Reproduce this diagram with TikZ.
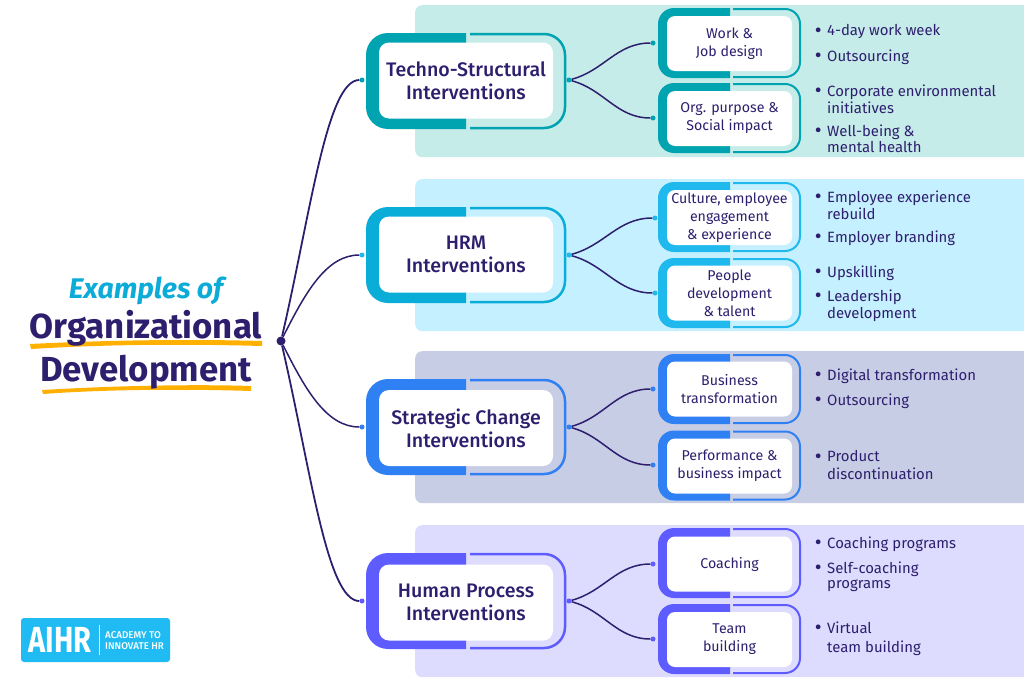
\documentclass[tikz,border=0pt]{standalone}
\usepackage{fontspec}
\setmainfont{Fira Sans}
\newfontfamily\medfam{Fira Sans Medium}
\usetikzlibrary{positioning}
\definecolor{navy}{HTML}{2E1F6E}
\definecolor{skyb}{HTML}{0CABD8}
\definecolor{orng}{HTML}{FFB000}
\definecolor{logob}{HTML}{1FBBF2}
\definecolor{teal1}{HTML}{00A3B0}
\definecolor{teal2}{HTML}{C5ECE9}
\definecolor{cyan1}{HTML}{1FB9EE}
\definecolor{cyan2}{HTML}{C5F0FF}
\definecolor{cyan3}{HTML}{0AACD8}
\definecolor{blue1}{HTML}{2F80F2}
\definecolor{blue2}{HTML}{C8CDE6}
\definecolor{viol1}{HTML}{5F5CFF}
\definecolor{viol2}{HTML}{DDDCFF}
\tikzstyle{bigbox} = [rectangle, fill=white, rounded corners=10, inner sep=0, minimum width=174, minimum height=76, align=center, text=navy, font=\fontsize{19.6}{23}\selectfont\medfam]
\tikzstyle{subbox} = [rectangle, fill=white, rounded corners=8, inner sep=0, minimum width=125, minimum height=55, align=center, text=navy, font=\fontsize{14.2}{18}\selectfont]
\tikzstyle{item} = [anchor=north west, inner sep=0, align=left, text=navy, font=\fontsize{14.9}{15}\selectfont]
\tikzstyle{band} = [rectangle, rounded corners=7, anchor=north west, inner sep=0, minimum width=620, minimum height=152]
\tikzstyle{dotn} = [circle, inner sep=0, minimum size=5]
\tikzstyle{line} = [draw=navy, line width=1.5]
\tikzstyle{mainline} = [draw=navy, line width=1.8]
\newcommand{\bul}{\strut\llap{\raisebox{-1.6pt}{\fontsize{21}{21}\selectfont\textbullet}\hspace{5.5pt}}}
\newcommand{\bigframe}[3]{
	\begin{scope}[shift={(466,#3)}]
		\fill [#1] (0,-48) [rounded corners=22] -- (-100,-48) -- (-100,48) [sharp corners] -- (0,48) -- cycle;
		\filldraw [draw=#1, fill=#2, line width=2.5] (4,-47) [rounded corners=21] -- (99,-47) -- (99,47) [sharp corners] -- (4,47);
	\end{scope}}
\newcommand{\subframe}[3]{
	\begin{scope}[shift={(730,#3)}]
		\fill [#1] (0,-35) [rounded corners=16] -- (-72,-35) -- (-72,35) [sharp corners] -- (0,35) -- cycle;
		\filldraw [draw=#1, fill=#2, line width=2] (3,-34) [rounded corners=15] -- (70,-34) -- (70,34) [sharp corners] -- (3,34);
	\end{scope}}
\begin{document}
\begin{tikzpicture}[x=1pt, y=-1pt]
	\useasboundingbox (0,0) rectangle (1024,680);
	\begin{scope}
		\clip (0,0) rectangle (1024,680);
		\node [band, fill=teal2] (bandA) at (415,5) {};
		\node [band, fill=cyan2] (bandB) at (415,179) {};
		\node [band, fill=blue2] (bandC) at (415,351) {};
		\node [band, fill=viol2] (bandD) at (415,525) {};
	\end{scope}

	\bigframe{teal1}{teal2}{81}
	\bigframe{cyan3}{cyan2}{255}
	\bigframe{blue1}{blue2}{427}
	\bigframe{viol1}{viol2}{601}
	\subframe{teal1}{teal2}{43}
	\subframe{teal1}{teal2}{118}
	\subframe{cyan1}{cyan2}{217}
	\subframe{cyan1}{cyan2}{293}
	\subframe{blue1}{blue2}{389}
	\subframe{blue1}{blue2}{465.5}
	\subframe{viol1}{viol2}{563}
	\subframe{viol1}{viol2}{639}

	\node [bigbox] (techno) at (466,80.5) {Techno-Structural\\Interventions};
	\node [bigbox] (hrm) at (466,254.5) {HRM\\Interventions};
	\node [bigbox] (strategic) at (466,428) {Strategic Change\\Interventions};
	\node [bigbox] (human) at (466,602.5) {Human Process\\Interventions};

	\node [subbox] (work) at (729.5,43.5) {Work \&\\Job design};
	\node [subbox] (purpose) at (729.5,118.5) {Org. purpose \&\\Social impact};
	\node [subbox] (culture) at (729.5,217.5) {Culture, employee\\engagement\\\& experience};
	\node [subbox] (people) at (729.5,293) {People\\development\\\& talent};
	\node [subbox] (business) at (729.5,389) {Business\\transformation};
	\node [subbox] (performance) at (729.5,466) {Performance \&\\business impact};
	\node [subbox] (coaching) at (729.5,564) {Coaching};
	\node [subbox] (team) at (729.5,639.5) {Team\\building};

	% list items
	\node [item] (i1) at (827,24.5) {\bul 4-day work week};
	\node [item] (i2) at (827,49.5) {\bul Outsourcing};
	\node [item] (i3) at (827,84.5) {\bul Corporate environmental\\initiatives};
	\node [item] (i4) at (827,124.5) {\bul Well-being \&\\mental health};
	\node [item] (i5) at (827,190.5) {\bul Employee experience\\rebuild};
	\node [item] (i6) at (827,230.5) {\bul Employer branding};
	\node [item] (i7) at (827,265.5) {\bul Upskilling};
	\node [item] (i8) at (827,289.5) {\bul Leadership\\development};
	\node [item] (i9) at (827,368.5) {\bul Digital transformation};
	\node [item] (i10) at (827,393.5) {\bul Outsourcing};
	\node [item] (i11) at (827,450.5) {\bul Product\\discontinuation};
	\node [item] (i12) at (827,536.5) {\bul Coaching programs};
	\node [item] (i13) at (827,561.5) {\bul Self-coaching\\programs};
	\node [item] (i14) at (827,621.5) {\bul Virtual\\[2pt]team building};

	% dots
	\node [circle, fill=navy, inner sep=0, minimum size=9] (root) at (281,341) {};
	\node [dotn, fill=teal1] (inA) at (362,80) {};
	\node [dotn, fill=cyan1] (inB) at (362,255) {};
	\node [dotn, fill=blue1] (inC) at (362,427) {};
	\node [dotn, fill=viol1] (inD) at (362,601) {};
	\node [dotn, fill=teal1] (outA) at (569,80) {};
	\node [dotn, fill=cyan1] (outB) at (569,255) {};
	\node [dotn, fill=blue1] (outC) at (569,427) {};
	\node [dotn, fill=viol1] (outD) at (569,601) {};
	\node [dotn, fill=teal1] (subA1) at (653,43) {};
	\node [dotn, fill=teal1] (subA2) at (653,118) {};
	\node [dotn, fill=cyan1] (subB1) at (655,218) {};
	\node [dotn, fill=cyan1] (subB2) at (655,293) {};
	\node [dotn, fill=blue1] (subC1) at (653,389) {};
	\node [dotn, fill=blue1] (subC2) at (653,465) {};
	\node [dotn, fill=viol1] (subD1) at (653,564) {};
	\node [dotn, fill=viol1] (subD2) at (653,639) {};

	\path [mainline] (root) .. controls +(30,-130) and +(-35,0) .. (inA);
	\path [line] (root) .. controls +(25,-50) and +(-35,0) .. (inB);
	\path [line] (root) .. controls +(25,50) and +(-35,0) .. (inC);
	\path [mainline] (root) .. controls +(30,130) and +(-35,0) .. (inD);

	\path [line] (outA) to[out=15, in=180] (subA1);
	\path [line] (outA) to[out=-15, in=180] (subA2);
	\path [line] (outB) to[out=15, in=180] (subB1);
	\path [line] (outB) to[out=-15, in=180] (subB2);
	\path [line] (outC) to[out=15, in=180] (subC1);
	\path [line] (outC) to[out=-15, in=180] (subC2);
	\path [line] (outD) to[out=15, in=180] (subD1);
	\path [line] (outD) to[out=-15, in=180] (subD2);

	% title
	\fill [orng] (30,344) .. controls (110,340) and (190,339) .. (262,341) -- (262,346) .. controls (190,344) and (110,344) .. (31,349) -- cycle;
	\fill [orng] (42,390) .. controls (110,386) and (190,384) .. (251,386) -- (251,391) .. controls (190,389) and (110,389) .. (43,394) -- cycle;
	\node [text=skyb, font=\fontsize{28.4}{30}\selectfont\bfseries\itshape] (ex) at (146,291) {Examples of};
	\node [text=navy, font=\fontsize{34.8}{38}\selectfont\bfseries] (org) at (146,328) {Organizational};
	\node [text=navy, font=\fontsize{34.8}{38}\selectfont\bfseries] (dev) at (146,372.5) {Development};

	% logo
	\node [rectangle, fill=logob, rounded corners=3, inner sep=0, minimum width=149, minimum height=44] (logo) at (95.5,640) {};
	\node [anchor=west, inner sep=0, text=white, font=\fontsize{29}{30}\selectfont\bfseries] (aihr) at (28.5,640) {\scalebox{1}[1.25]{AIHR}};
	\node [anchor=west, inner sep=0, align=left, text=white, font=\fontsize{9.8}{11.5}\selectfont\medfam] (academy) at (105,640.5) {ACADEMY TO\\INNOVATE HR};
	\fill [white] (98.5,625) rectangle (99.8,655);
\end{tikzpicture}
\end{document}
